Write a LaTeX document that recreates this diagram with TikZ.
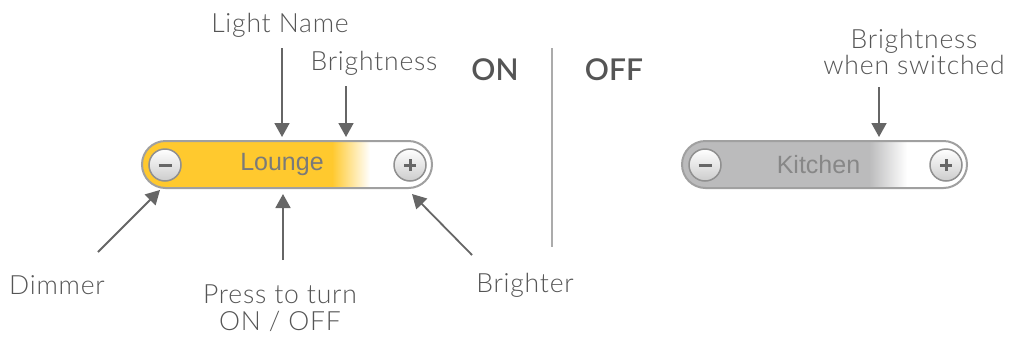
\documentclass[tikz,border=0pt]{standalone}
\usepackage{fontspec}
\usetikzlibrary{arrows.meta}
\newfontfamily\lblfont{Lato Light}[LetterSpace=3]
\newfontfamily\hdfont{Lato Semibold}
\newfontfamily\barfont{Liberation Sans}
\definecolor{bulb}{HTML}{FFC92E}
\definecolor{offgray}{HTML}{BBBBBC}
\definecolor{txt}{HTML}{555555}
\definecolor{arr}{HTML}{666666}
\definecolor{rim}{HTML}{A0A0A0}
\tikzset{
  lbl/.style={font=\lblfont\fontsize{26.5}{26.5}\selectfont, text=txt, inner sep=0pt, align=center},
  hd/.style={font=\hdfont\fontsize{30}{30}\selectfont, text=txt, inner sep=0pt, anchor=base},
  conn/.style={draw=arr, line width=1.8pt, -{Triangle[width=15pt,length=14pt]}},
  barbox/.style={draw=rim, line width=2pt, rounded corners=23.5pt, minimum height=47pt, inner sep=0pt,
     font=\barfont\fontsize{25}{25}\selectfont},
  btn/.style={circle, draw=rim!90!black, line width=1.5pt, minimum size=32pt, inner sep=0pt,
     top color=white, bottom color=black!20},
  minus/.style={btn, path picture={\draw[arr, line width=3pt] ([xshift=-6.5pt]path picture bounding box.center) -- ([xshift=6.5pt]path picture bounding box.center);}},
  plus/.style={btn, path picture={\draw[arr, line width=3pt] ([xshift=-6pt]path picture bounding box.center) -- ([xshift=6pt]path picture bounding box.center)
      ([yshift=-6pt]path picture bounding box.center) -- ([yshift=6pt]path picture bounding box.center);}},
}
\begin{document}
\begin{tikzpicture}[x=1pt,y=-1pt]
\useasboundingbox (0,0) rectangle (1009,338);
% ON bar
\node[barbox, minimum width=290pt, text=black!52,
  path picture={
    \fill[bulb, sharp corners] (path picture bounding box.north west) rectangle ([xshift=191pt]path picture bounding box.south west);
    \shade[left color=bulb, right color=white, sharp corners] ([xshift=190pt]path picture bounding box.north west) rectangle ([xshift=228pt]path picture bounding box.south west);
    \fill[white, sharp corners] ([xshift=227.5pt]path picture bounding box.north west) rectangle (path picture bounding box.south east);
  }] (lounge) at (287,164.5) {\raisebox{-1.5pt}{Lounge}\hspace*{10pt}};
\node[minus] (lminus) at (165,165) {};
\node[plus] (lplus) at (410,165) {};
% OFF bar
\node[barbox, minimum width=285pt, text=black!47,
  path picture={
    \fill[offgray, sharp corners] (path picture bounding box.north west) rectangle ([xshift=188pt]path picture bounding box.south west);
    \shade[left color=offgray, right color=white, sharp corners] ([xshift=187pt]path picture bounding box.north west) rectangle ([xshift=225pt]path picture bounding box.south west);
    \fill[white, sharp corners] ([xshift=224.5pt]path picture bounding box.north west) rectangle (path picture bounding box.south east);
  }] (kitchen) at (824.5,164.5) {\raisebox{-1.5pt}{Kitchen}\hspace*{12pt}};
\node[minus] (kminus) at (705,165) {};
\node[plus] (kplus) at (946,165) {};
% headings and divider
\node[hd] (on) at (495,80) {ON};
\node[hd] (off) at (614,80) {OFF};
\coordinate (divtop) at (552,48);
\coordinate (divbot) at (552,247);
\draw[draw=black!33, line width=1.8pt] (divtop) -- (divbot);
% labels
\node[lbl, anchor=base] (lname) at (280,32) {Light Name};
\node[lbl, anchor=base] (bright) at (374,70) {Brightness};
\node[lbl, anchor=north] (bsw) at (914,29) {Brightness\\when switched};
\node[lbl, anchor=base] (dim) at (57,294) {Dimmer};
\node[lbl, anchor=base] (brighter) at (525,292) {Brighter};
\node[lbl, anchor=north] (press) at (280,285) {Press to turn\\ON / OFF};
% arrow ends
\coordinate (a1s) at (282,48);  \coordinate (a1e) at (282,137);
\coordinate (a2s) at (346,86);  \coordinate (a2e) at (346,137);
\coordinate (a3s) at (879,87);  \coordinate (a3e) at (879,137);
\coordinate (a4s) at (98,252);  \coordinate (a4e) at (160,190);
\coordinate (a5s) at (283,260); \coordinate (a5e) at (283,194);
\coordinate (a6s) at (472,255); \coordinate (a6e) at (412,194);
\draw[conn] (a1s) -- (a1e);
\draw[conn] (a2s) -- (a2e);
\draw[conn] (a3s) -- (a3e);
\draw[conn] (a4s) -- (a4e);
\draw[conn] (a5s) -- (a5e);
\draw[conn] (a6s) -- (a6e);
\end{tikzpicture}
\end{document}
